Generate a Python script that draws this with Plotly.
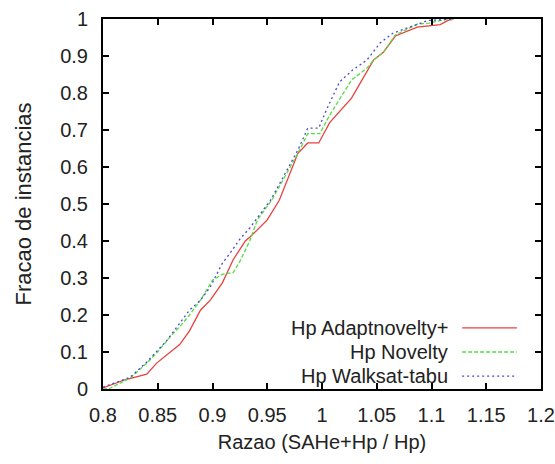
import plotly.graph_objects as go

# Data
adapt_x = [0.80, 0.82, 0.84, 0.849, 0.870, 0.879, 0.889, 0.898, 0.909, 0.919, 0.93, 0.934, 0.95, 0.961,
           0.978, 0.987, 0.997, 1.007, 1.027, 1.047, 1.056, 1.067, 1.087, 1.108, 1.115, 1.12]
adapt_y = [0.003, 0.025, 0.04, 0.07, 0.12, 0.157, 0.213, 0.24, 0.287, 0.35, 0.40, 0.41, 0.457, 0.51,
           0.637, 0.665, 0.665, 0.72, 0.786, 0.889, 0.91, 0.954, 0.978, 0.985, 0.996, 1.0]

nov_x = [0.80, 0.805, 0.825, 0.84, 0.849, 0.861, 0.870, 0.879, 0.889, 0.90, 0.909, 0.919, 0.925, 0.934,
         0.941, 0.954, 0.978, 0.987, 0.998, 1.007, 1.027, 1.042, 1.047, 1.056, 1.067, 1.087, 1.098, 1.115, 1.12]
nov_y = [0.0, 0.0, 0.03, 0.07, 0.097, 0.14, 0.168, 0.20, 0.24, 0.294, 0.31, 0.315, 0.345, 0.40,
         0.457, 0.51, 0.637, 0.69, 0.69, 0.74, 0.835, 0.87, 0.889, 0.91, 0.957, 0.986, 0.989, 1.0, 1.0]

walk_x = [0.80, 0.825, 0.84, 0.858, 0.879, 0.889, 0.898, 0.909, 0.916, 0.925, 0.934, 0.953,
          0.978, 0.987, 0.997, 1.004, 1.016, 1.028, 1.041, 1.053, 1.065, 1.081, 1.097, 1.12]
walk_y = [0.005, 0.032, 0.073, 0.13, 0.213, 0.24, 0.276, 0.34, 0.367, 0.405, 0.435, 0.51,
          0.646, 0.705, 0.705, 0.754, 0.83, 0.862, 0.889, 0.935, 0.962, 0.98, 0.996, 1.0]

series_names = ["Hp Adaptnovelty+", "Hp Novelty", "Hp Walksat-tabu"]
series_colors = ["#e8403f", "#55dd44", "#4a4acc"]
series_dash = ["solid", "4px,2px", "2px,3px"]

x_ticks = [0.8, 0.85, 0.9, 0.95, 1.0, 1.05, 1.1, 1.15, 1.2]
x_labels = ["0.8", "0.85", "0.9", "0.95", "1", "1.05", "1.1", "1.15", "1.2"]
y_ticks = [0, 0.1, 0.2, 0.3, 0.4, 0.5, 0.6, 0.7, 0.8, 0.9, 1.0]
y_labels = ["0", "0.1", "0.2", "0.3", "0.4", "0.5", "0.6", "0.7", "0.8", "0.9", "1"]

FONT = "Liberation Sans, Arial, sans-serif"
SIZE_H = 20
TXT = "#222222"

fig = go.Figure()
for xs, ys, name, col, dash in zip([adapt_x, nov_x, walk_x], [adapt_y, nov_y, walk_y],
                                   series_names, series_colors, series_dash):
    fig.add_trace(go.Scatter(x=xs, y=ys, mode="lines", name=name,
                             line=dict(color=col, width=1.3, dash=dash), showlegend=False))

# Legend drawn gnuplot-style: text right-aligned, sample line to its right
leg_y = [0.165, 0.100, 0.035]
for name, col, dash, ly in zip(series_names, series_colors, series_dash, leg_y):
    fig.add_annotation(xref="paper", yref="paper", x=0.788, y=ly, text=name, showarrow=False,
                       xanchor="right", yanchor="middle", xshift=2,
                       font=dict(family=FONT, size=SIZE_H, color=TXT))
    fig.add_shape(type="line", xref="paper", yref="paper", x0=0.82, x1=0.945, y0=ly, y1=ly,
                  line=dict(color=col, width=1.3, dash=dash))

axis_common = dict(showline=True, linecolor="black", linewidth=2, mirror="ticks",
                   ticks="inside", ticklen=6, tickwidth=2, tickcolor="black",
                   showgrid=False, zeroline=False, automargin=False, ticklabeloverflow="allow",
                   tickfont=dict(family=FONT, size=SIZE_H, color=TXT))

fig.update_xaxes(range=[0.8, 1.2], tickvals=x_ticks, ticktext=x_labels, ticklabelstandoff=7,
                 title=dict(text="Razao (SAHe+Hp / Hp)", font=dict(family=FONT, size=SIZE_H, color=TXT),
                            standoff=10),
                 **axis_common)
fig.update_yaxes(range=[0, 1], tickvals=y_ticks, ticktext=y_labels, ticklabelstandoff=9,
                 title=dict(text="Fracao de instancias", font=dict(family=FONT, size=22, color=TXT),
                            standoff=22),
                 **axis_common)

fig.update_layout(width=555, height=464, margin=dict(l=103, r=14, t=19, b=75),
                  plot_bgcolor="white", paper_bgcolor="white")

fig.write_html("out.html")
